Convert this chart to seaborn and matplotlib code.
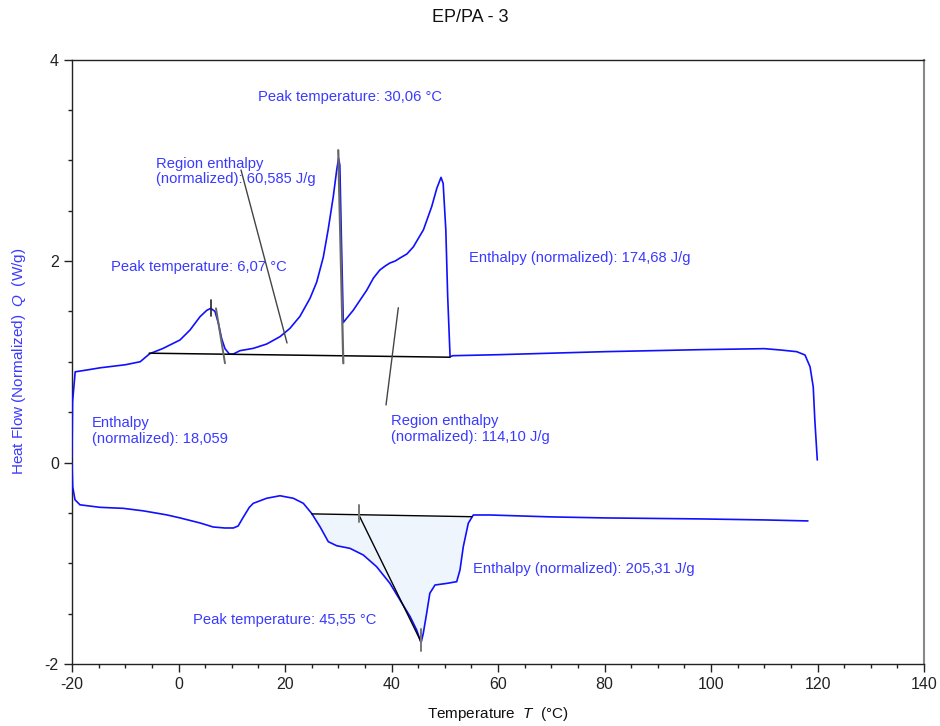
import numpy as np
import pandas as pd
import matplotlib
matplotlib.use("Agg")
import matplotlib.pyplot as plt
from matplotlib.ticker import MultipleLocator
import seaborn as sns

# ---- data ----
heat_T = [-20, -19.9, -19.4, -17, -14.7, -10, -7.2, -5.4, -3, 0.28, 2.16, 4.04, 5.3, 6.05, 6.85, 7.5, 8.1,
          8.73, 9.54, 10.3, 11.55, 14.05, 16.56, 19.06, 20.9, 22.8, 24.7, 25.95, 27.2, 28.1, 29.07, 29.7,
          30.06, 30.3, 30.6, 30.95, 32.8, 35.35, 36.6, 37.8, 38.8, 39.7, 40.7, 41.6, 42.9, 44.1, 46.0,
          47.55, 48.5, 49.3, 49.7, 50.2, 50.55, 51.0, 51.5, 60, 80, 98, 110, 113, 116.1, 117.65, 118.6,
          119.2, 119.5, 119.96]
heat_Q = [0.05, 0.6, 0.9, 0.92, 0.94, 0.97, 1.0, 1.08, 1.13, 1.216, 1.315, 1.447, 1.51, 1.53, 1.50, 1.38, 1.23,
          1.13, 1.077, 1.077, 1.11, 1.133, 1.176, 1.249, 1.33, 1.45, 1.63, 1.79, 2.04, 2.31, 2.64, 2.90,
          3.02, 2.95, 2.2, 1.39, 1.51, 1.71, 1.83, 1.91, 1.95, 1.98, 2.0, 2.03, 2.07, 2.14, 2.31,
          2.54, 2.72, 2.83, 2.77, 2.31, 1.65, 1.05, 1.06, 1.07, 1.10, 1.12, 1.13, 1.117, 1.10, 1.067, 0.95,
          0.75, 0.42, 0.025]

cool_T = [-20, -19.87, -19.44, -18.5, -14.74, -10.37, -6.6, -2.2, 0.28, 4.04, 6.5, 8.7, 10.3, 11.2, 12.2,
          13.3, 14.05, 16.56, 19.06, 21.56, 23.44, 25.0, 26.57, 28.13, 29.7, 32.2, 34.7, 37.2, 39.7, 41.6,
          43.5, 44.73, 45.55, 45.97, 46.6, 47.2, 48.17, 50.37, 52.24, 52.86, 53.48, 54.42, 55.36, 58.5, 70,
          80, 98, 110, 118.2]
cool_Q = [0.0, -0.24, -0.37, -0.42, -0.445, -0.455, -0.48, -0.52, -0.55, -0.60, -0.64, -0.65, -0.65, -0.63,
          -0.54, -0.445, -0.405, -0.355, -0.33, -0.355, -0.405, -0.505, -0.637, -0.786, -0.826, -0.852,
          -0.918, -1.034, -1.199, -1.365, -1.53, -1.663, -1.79, -1.695, -1.497, -1.298, -1.216, -1.2, -1.183,
          -1.067, -0.836, -0.603, -0.521, -0.521, -0.54, -0.55, -0.56, -0.57, -0.58]

# integration baselines (T, Q endpoints)
heat_base_T = [-5.5, 51.0]
heat_base_Q = [1.085, 1.045]
cool_base_T = [25.0, 55.06]
cool_base_Q = [-0.51, -0.538]

# annotation texts and anchor points (T, Q)
labels = [
    ("Peak temperature: 30,06 °C", 14.93, 3.628),
    ("Region enthalpy\n(normalized): 60,585 J/g", -4.23, 2.89),
    ("Peak temperature: 6,07 °C", -12.68, 1.94),
    ("Enthalpy (normalized): 174,68 J/g", 54.55, 2.03),
    ("Enthalpy\n(normalized): 18,059", -16.24, 0.313),
    ("Region enthalpy\n(normalized): 114,10 J/g", 39.9, 0.333),
    ("Enthalpy (normalized): 205,31 J/g", 55.3, -1.057),
    ("Peak temperature: 45,55 °C", 2.72, -1.563),
]

x_ticks = [-20, 0, 20, 40, 60, 80, 100, 120, 140]
y_ticks = [-2, 0, 2, 4]

# ---- style ----
sns.set_style("ticks")
plt.rcParams["font.family"] = ["Liberation Sans", "DejaVu Sans"]
plt.rcParams["mathtext.fontset"] = "custom"
plt.rcParams["mathtext.it"] = "Liberation Sans:italic"
plt.rcParams["mathtext.rm"] = "Liberation Sans"
plt.rcParams["axes.unicode_minus"] = False

BLUE = "#1010ff"
TXT = "#3a3aff"

fig = plt.figure(figsize=(9.4, 7.26), dpi=100)
ax = fig.add_axes([72 / 940, 1 - 664 / 726, (924 - 72) / 940, (664 - 59.5) / 726])

# fill under cooling peak
ct = np.array(cool_T)
cq = np.array(cool_Q)
mask = (ct > cool_base_T[0]) & (ct < cool_base_T[1])
fx = np.concatenate([[cool_base_T[0]], ct[mask], [cool_base_T[1]]])
fy = np.interp(fx, ct, cq)
fb = np.interp(fx, cool_base_T, cool_base_Q)
ax.fill_between(fx, fy, fb, color="#eef5fd", lw=0, zorder=1)

df_h = pd.DataFrame({"T": heat_T, "Q": heat_Q})
df_c = pd.DataFrame({"T": cool_T, "Q": cool_Q})
sns.lineplot(data=df_h, x="T", y="Q", ax=ax, color=BLUE, lw=1.2, sort=False, zorder=3)
sns.lineplot(data=df_c, x="T", y="Q", ax=ax, color=BLUE, lw=1.2, sort=False, zorder=3)

# baselines
ax.plot(heat_base_T, heat_base_Q, color="black", lw=1.1, zorder=4)
ax.plot(cool_base_T, cool_base_Q, color="black", lw=1.0, zorder=4)

# peak markers
ax.plot([6.05, 6.05], [1.454, 1.61], color="#222222", lw=1.2, zorder=5)
ax.plot([7.04, 8.73], [1.53, 0.985], color="#666666", lw=1.4, zorder=5)
ax.plot([30.0, 30.95], [3.10, 0.985], color="#666666", lw=1.6, zorder=5)
ax.plot([33.96, 45.55], [-0.53, -1.78], color="black", lw=1.0, zorder=5)
ax.plot([33.96, 33.96], [-0.42, -0.59], color="#777777", lw=1.4, zorder=5)
ax.plot([45.55, 45.55], [-1.65, -1.87], color="#777777", lw=1.4, zorder=5)

# leader lines
ax.plot([11.74, 20.38], [2.903, 1.186], color="#444444", lw=1.0, zorder=5)
ax.plot([41.28, 38.97], [1.536, 0.571], color="#444444", lw=1.0, zorder=5)

for txt, tx, ty in labels:
    ax.text(tx, ty, txt, color=TXT, fontsize=10.6, ha="left", va="center", linespacing=1.15, zorder=6)

ax.set_xlim(-20, 140)
ax.set_ylim(-2, 4)
ax.set_xticks(x_ticks)
ax.set_yticks(y_ticks)
ax.xaxis.set_minor_locator(MultipleLocator(5))
ax.yaxis.set_minor_locator(MultipleLocator(0.5))
ax.tick_params(which="major", direction="out", length=6, width=1, colors="#222222", labelsize=11.5,
               top=False, right=False)
ax.tick_params(which="minor", direction="out", length=3, width=1, colors="#222222", top=False, right=False)

for side in ["top", "bottom", "left"]:
    ax.spines[side].set_color("#222222")
    ax.spines[side].set_linewidth(1.0)
ax.spines["right"].set_color("#888888")
ax.spines["right"].set_linewidth(1.5)

ax.set_xlabel(r"Temperature  $\mathit{T}$  (°C)", fontsize=11, color="#111111", labelpad=9)
ax.set_ylabel(r"Heat Flow (Normalized)  $\mathit{Q}$  (W/g)", fontsize=11, color=TXT, labelpad=12)
fig.suptitle("EP/PA - 3", y=1 - 18 / 726, va="center", fontsize=13, color="#111111")

fig.savefig("out.png", dpi=100)
